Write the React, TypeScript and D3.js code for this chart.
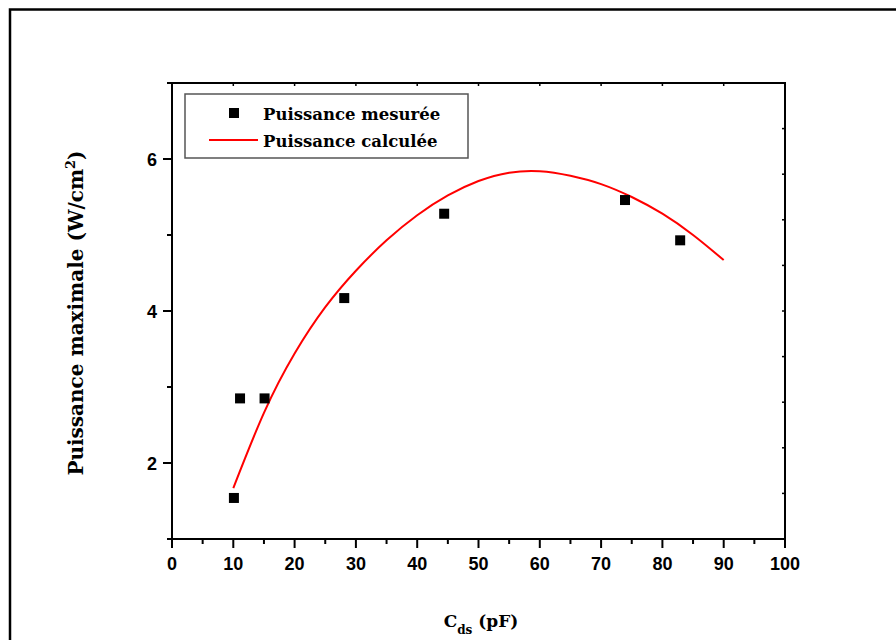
import React from "react";
import * as d3 from "d3";

const X_MAJOR = [0, 10, 20, 30, 40, 50, 60, 70, 80, 90, 100];
const X_MINOR = [5, 15, 25, 35, 45, 55, 65, 75, 85, 95];
const Y_MAJOR = [2, 4, 6];
const Y_MINOR = [3, 5];
const RIGHT_TICKS = [1, 2, 3, 4, 5, 6, 7, 8, 9];

const cdsMeasured = [10.1, 11.1, 15.1, 28.1, 44.4, 73.9, 82.9];
const pMeasured = [1.54, 2.85, 2.85, 4.17, 5.28, 5.46, 4.93];

const cdsCalc = [10, 15, 20, 25, 30, 35, 40, 45, 50, 55, 60, 65, 70, 75, 80, 85, 90];
const pCalc = [1.67, 2.66, 3.44, 4.05, 4.53, 4.93, 5.26, 5.52, 5.71, 5.82, 5.84, 5.78, 5.67, 5.5, 5.28, 5.0, 4.67];

const LEGEND = ["Puissance mesurée", "Puissance calculée"];

const W = 896;
const H = 640;

export default function App() {
  const x = d3.scaleLinear().domain([0, 100]).range([172, 785]);
  const y = d3.scaleLinear().domain([1, 7]).range([539, 83]);
  const yR = d3.scaleLinear().domain([0, 10]).range([539, 83]);

  const line = d3
    .line<number>()
    .x((_, i) => x(cdsCalc[i]))
    .y((d) => y(d))
    .curve(d3.curveNatural);

  const serif = "'DejaVu Serif', serif";
  const sans = "'Liberation Sans', Arial, sans-serif";

  return (
    <div style={{ position: "absolute", left: 0, top: 0 }}>
      <svg width={W} height={H} style={{ display: "block", background: "#fff" }}>
        {/* outer frame */}
        <path d={`M10,${H + 5} L10,9.5 L${W + 5},9.5`} fill="none" stroke="#000" strokeWidth={2.5} />

        {/* axes box */}
        <line x1={167} x2={786} y1={539} y2={539} stroke="#000" strokeWidth={2} />
        <line x1={167} x2={786} y1={83} y2={83} stroke="#000" strokeWidth={2} />
        <line x1={172} x2={172} y1={82} y2={540} stroke="#000" strokeWidth={2} />
        <line x1={785} x2={785} y1={82} y2={540} stroke="#000" strokeWidth={2} />

        {/* bottom ticks */}
        {X_MAJOR.map((v) => (
          <line key={"xm" + v} x1={x(v)} x2={x(v)} y1={539} y2={548} stroke="#000" strokeWidth={2} />
        ))}
        {X_MINOR.map((v) => (
          <line key={"xn" + v} x1={x(v)} x2={x(v)} y1={539} y2={544} stroke="#000" strokeWidth={2} />
        ))}
        {/* top ticks */}
        {X_MAJOR.slice(1, -1).map((v) => (
          <line key={"xt" + v} x1={x(v)} x2={x(v)} y1={83} y2={86} stroke="#000" strokeWidth={1.5} />
        ))}
        {X_MAJOR.map((v) => (
          <text
            key={"xl" + v}
            x={x(v)}
            y={570}
            textAnchor="middle"
            fontFamily={sans}
            fontWeight="bold"
            fontSize={18}
          >
            {v}
          </text>
        ))}

        {/* left ticks */}
        {Y_MAJOR.map((v) => (
          <line key={"ym" + v} x1={163} x2={172} y1={y(v)} y2={y(v)} stroke="#000" strokeWidth={2} />
        ))}
        {Y_MINOR.map((v) => (
          <line key={"yn" + v} x1={167} x2={172} y1={y(v)} y2={y(v)} stroke="#000" strokeWidth={2} />
        ))}
        {Y_MAJOR.map((v) => (
          <text
            key={"yl" + v}
            x={157}
            y={y(v) + 6.5}
            textAnchor="end"
            fontFamily={sans}
            fontWeight="bold"
            fontSize={18}
          >
            {v}
          </text>
        ))}
        {/* right ticks */}
        {RIGHT_TICKS.map((v) => (
          <line key={"yr" + v} x1={782} x2={785} y1={yR(v)} y2={yR(v)} stroke="#000" strokeWidth={1.5} />
        ))}

        {/* calculated curve */}
        <path d={line(pCalc) || ""} fill="none" stroke="#ff0000" strokeWidth={2} />

        {/* measured points */}
        {cdsMeasured.map((c, i) => (
          <rect key={"p" + i} x={x(c) - 5} y={y(pMeasured[i]) - 5} width={10} height={10} fill="#000" />
        ))}

        {/* legend */}
        <rect x={185} y={94} width={283} height={64} fill="#fff" stroke="#555" strokeWidth={1.5} />
        <rect x={229} y={108} width={10} height={10} fill="#000" />
        <line x1={209} x2={258} y1={140} y2={140} stroke="#ff0000" strokeWidth={2} />
        <text x={263} y={120} fontFamily={serif} fontWeight="bold" fontSize={16.5}>
          {LEGEND[0]}
        </text>
        <text x={263} y={147} fontFamily={serif} fontWeight="bold" fontSize={16.5}>
          {LEGEND[1]}
        </text>

        {/* y title */}
        <text
          transform="translate(83,313) rotate(-90)"
          textAnchor="middle"
          fontFamily={serif}
          fontWeight="bold"
          fontSize={20}
        >
          Puissance maximale (W/cm
          <tspan dy={-8} fontSize={13}>2</tspan>
          <tspan dy={8}>)</tspan>
        </text>

        {/* x title */}
        <text x={481} y={627} textAnchor="middle" fontFamily={serif} fontWeight="bold" fontSize={17}>
          C<tspan dy={7} fontSize={12}>ds</tspan>
          <tspan dy={-7}> (pF)</tspan>
        </text>
      </svg>
    </div>
  );
}
